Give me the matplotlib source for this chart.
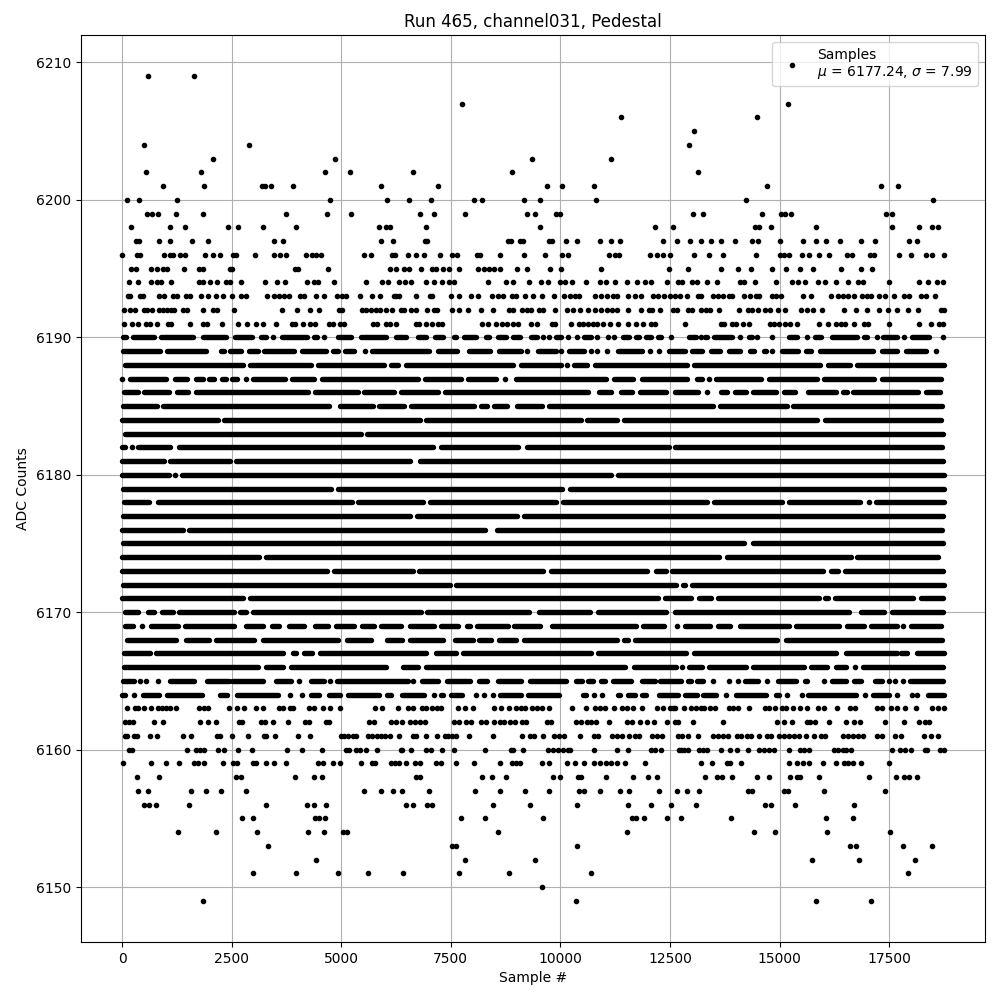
import matplotlib
matplotlib.use("Agg")
import matplotlib.pyplot as plt

# sample numbers, one list per ADC level
# plain int = single sample, (a, b) = run of samples that merge into a solid bar
row_6209 = [584, 1633]
row_6207 = [7766, 15199]
row_6206 = [11391, 14492]
row_6205 = [13056]
row_6204 = [493, 2887, 12942]
row_6203 = [2066, 4848, 9362, 11163]
row_6202 = [539, 1793, 4620, 5190, 6626, 8906, 13147]
row_6201 = [926, 1861, 3200, 3260, 3389, 3890, 5897, 7219, 9704, 10046, 10776, 14720, 17319, 17707]
row_6200 = [105, 379, 1245, 4734, 6033, 6535, 7059, 8040, 8215, 9180, 9545, 10821, 14241, 18505]
row_6199 = [561, 675, 812, 1223, 1838, 3731, 4665, 5213, 6786, 7105, 7835, 9248, 9431, 9894, 10000,
            13033, 13261, 14606, 15024, 15123, 15267, 17433, 17555]
row_6198 = [197, 1086, 1428, 2408, 2644, 3206, 3959, 5851, 6011, 6117, 6923, 9545, 12167, 12577,
            14447, 14538, 14811, 15837, 17570, 18186, 18482, 18619]
row_6197 = [311, 379, 835, 1086, 1587, 1960, 3457, 3662, 5897, 6178, 6900, 6968, 8815, 8883, 9089, 9157,
            9750, 9818, 10137, 10388, 10913, 11163, 11369, 12349, 12668, 12965, 13215, 13443, 13671,
            13991, 14378, 14515, 15017, 15541, 15837, 16065, 16385, 16863, 17183, 17958, 18140]
row_6196 = [0, 333, 402, 949, 1086, 1154, 1314, 1428, 1884, 2066, 2226, 2522, 2591, 3024, 3457, 3594, 3731,
            4187, 4323, 4415, 4529, 5509, 5669, 6163, 6231, 6512, 6717, 6877, 7257, 7538, 7652, 8108, 8177,
            8633, 9180, 9659, 10046, 10183, 11118, 11255, 11346, 12053, 12212, 12349, 12509, 13056, 13398,
            13717, 14469, 15017, 15108, 15222, 15518, 15678, 15906, 16134, 16544, 16643, 17069, 17160,
            17722, 18003, 18345, 18482, 18756]
row_6195 = [197, 311, 653, 789, 926, 1017, 1405, 1747, 1838, 2454, 2500, 3936, 4004, 4688, 6102, 6239, 6421,
            6535, 6831, 7082, 7173, 7333, 7470, 7698, 8131, 8268, 8382, 8496, 8633, 9020, 9248, 9773, 10023,
            10935, 12486, 12919, 13671, 14059, 14355, 14834, 15153, 15473, 15769, 16407, 16863, 17114]
row_6194 = [151, 356, 653, 789, 881, 1109, 1747, 1838, 1998, 2157, 2363, 2454, 2705, 3252, 3525, 3708, 4209,
            4369, 4460, 4825, 5555, 5919, 6056, 6307, 6444, 6603, 6923, 7105, 7310, 7470, 7584, 8359, 8769,
            8929, 9294, 9567, 9727, 10000, 10115, 10274, 10593, 10913, 11049, 11255, 11528, 11756, 11939,
            12075, 12440, 12691, 12782, 13010, 13124, 13352, 13580, 14105, 14196, 14447, 14925, 15290, 15427,
            15587, 15883, 16043, 16293, 16567, 16795, 16909, 17502, 18186, 18391, 18596, 18733]
row_6193 = [128, 174, 402, 470, 835, 949, 1154, 1245, 1451, 1542, 1793, 1952, 2135, 2294, 2500, 2705, 2819,
            3297, 3457, 3571, 3685, 3799, 4050, 4141, 4415, 4597, 4901, 5007, 5099, 5418, 5691, 5874, 6239,
            6193, 6307, 6695, 7014, 7082, 7493, 7698, 7971, 8131, 8450, 8587, 8701, 8906, 8997, 9203, 9385,
            9590, 9864, 10092, 10229, 10343, 10434, 10799, 10935, 11072, 11209, 11300, 11551, 11711, 11847,
            12121, 12235, 12372, 12509, 12623, 12737, 12896, 13147, 13215, 13489, 13603, 13717, 13854, 13922,
            14196, 14333, 14469, 14538, 14834, 14925, 15039, 15541, 15723, 16179, 16339, 16453, 16567, 16704,
            16886, 16996, 17091, 17274, 17410, 17616, 17844, 17958, 18231, 18345, 18551]
row_6192 = [37, 174, 288, 493, 561, 675, 835, 926, 1017, 1109, 1177, 1382, 1473, 1838, 2066, 2157, 2545, 3639,
            3981, 4278, 4483, 4939, 5007, 5463, 5555, 5669, 5783, 5874, 6011, 6147, 6353, 6421, 6581, 6717,
            6968, 7105, 7196, 7538, 7698, 7895, 8199, 8473, 8838, 8929, 9134, 9248, 9339, 9522, 9613, 9887,
            10160, 10297, 10457, 10639, 10799, 10935, 11072, 11186, 11300, 11551, 11847, 12030, 12098, 12281,
            12577, 12668, 12919, 13010, 13215, 13329, 13420, 13626, 14082, 14287, 14378, 14515, 14675, 14789,
            14971, 15131, 15495, 15632, 15769, 15974, 16476, 16749, 17000, 17274, 17479, 17684, 17935, 18163,
            18687, 18756]
row_6191 = [37, 219, 356, 539, 630, 789, 1040, 1109, 1542, 1838, 1929, 2271, 2636, 2841, 3047, 3206, 3503, 3867,
            3936, 4118, 4278, 4392, 4711, 4802, 4962, 5053, 5714, 5805, 6011, 6102, 6239, 6695, 6763, 6945,
            7082, 7219, 7310, 8222, 8359, 8541, 8678, 8792, 8929, 9043, 9339, 9476, 9818, 9887, 10251, 10434,
            10525, 10639, 10753, 10845, 10981, 11141, 11323, 11551, 11733, 11893, 12075, 12167, 12851, 13671,
            13740, 13922, 14013, 14173, 14310, 14789, 14880, 14994, 15131, 15245, 15404, 15906, 16111, 16293,
            16407, 16498, 16704, 16932, 17023, 17502, 18186, 18460, 18642, 18733]
row_6190 = [(22, 90), (250, 721), (896, 1610), (1846, 2370), (2568, 2963), (3176, 3282), 3434, (3647, 4209),
            (4376, 4445), 4597, (4924, 5220), (5456, 6018), (6239, 6474), (6748, 6930), (7135, 7325), (7584, 7614),
            (7797, 8070), (8306, 8374), (8587, 8754), (8929, 9081), (9332, 9461), 9613, 9750, (9902, 10008), 10183,
            10388, (10548, 10692), 10845, 11080, 11224, (11422, 11566), (11726, 11794), (11954, 12060),
            (12220, 12288), 12524, (12927, 13086), 13200, (13307, 13352), (13512, 13922), 14105, (14295, 14378),
            14492, 14819, (15222, 15404), 15625, (15807, 15951), (16187, 16772), (16932, 17000), 17228,
            (17365, 17684), 17844, (18011, 18406), 18725]
row_6189 = [(22, 873), (1033, 1914), (2249, 2332), (2469, 2712), (2887, 3092), (3229, 3928), (4095, 4650),
            (4810, 4916), (5076, 5296), 5532, (5707, 7006), (7204, 7652), (7910, 8389), (8595, 9096), 9248,
            (9484, 9894), 10008, (10191, 10540), 10692, 10845, 11065, (11308, 11870), 12037, 12243, (12471, 12835),
            (13003, 13238), (13436, 13633), (13839, 14089), (14317, 14416), (14637, 14697), 14834, (15047, 15427),
            (15602, 15723), (15913, 17137), (17327, 17684), (17882, 18330), 18573]
row_6188 = [(75, 2750), (2925, 4308), (4468, 5980), (6140, 6284), (6482, 8929), (9104, 10008), 10160,
            (10320, 10616), (10799, 12896), (13056, 15921), (16096, 16605), (16765, 18748)]
row_6187 = [7, (189, 1002), (1200, 1473), (1694, 1838), (1983, 2089), (2287, 2370), (2515, 2613), 2819,
            (2993, 3716), (3883, 4384), (4567, 6755), (6907, 7743), (7888, 8526), 8746, (8990, 11034),
            (11224, 11657), (11855, 12896), (13109, 13238), 13398, (13550, 14583), (14766, 15860),
            (16005, 17152), (17335, 18687)]
row_6186 = [(45, 356), (500, 1063), (1253, 1496), (1679, 4232), (4392, 5372), (5517, 6208), (6360, 7211),
            (7371, 10639), (10875, 11163), (11384, 11642), (11809, 12402), (12623, 13139), 13337, (13656, 13808),
            (13975, 14241), (14386, 14910), (15093, 15343), (15640, 16278), (16438, 16529), (16666, 18155),
            (18330, 18650)]
row_6185 = [(22, 789), (934, 4726), (4962, 5714), (5859, 6436), (6596, 8032), (8192, 8336), (8481, 8792),
            (9005, 9590), (9735, 13489), (13641, 15161), (15298, 18710)]
row_6184 = [(0, 2180), (2325, 6793), (6938, 10464), (10601, 11300), (11445, 15860), (16035, 18687)]
row_6183 = [(60, 5448), (5593, 18733)]
row_6182 = [(0, 67), 219, (364, 1101), (1299, 7097), (7280, 9043), (9233, 12478), (12623, 18710)]
row_6181 = [(0, 949), (1101, 2454), (2606, 6573), (6786, 18733)]
row_6180 = [(0, 1063), 1215, (1367, 11148), (11308, 18748)]
row_6179 = [(22, 4764), (4924, 10046), (10229, 18748)]
row_6178 = [(45, 607), (820, 5235), (5380, 6870), (7029, 9909), (10054, 13352), (13497, 15062), (15207, 16825),
            17038, (17198, 18748)]
row_6177 = [(22, 6573), (6725, 9005), (9180, 18733)]
row_6176 = [(0, 1382), (1527, 8275), (8549, 18710)]
row_6175 = [(22, 14188), (14386, 18733)]
row_6174 = [(0, 3130), (3290, 13618), (13801, 16620), (16765, 18619)]
row_6173 = [(0, 4665), (4833, 6626), (6771, 9613), (9788, 11984), (12182, 12402), (12546, 15997), (16172, 16339),
            (16491, 18733)]
row_6172 = [(22, 7485), (7622, 12630), (12790, 12835), (13003, 18748)]
row_6171 = [(0, 2750), (2910, 12228), (12387, 12987), (13155, 13443), (13588, 15898), (16043, 16111),
            (16263, 18049), (18224, 18733)]
row_6170 = [(75, 371), (592, 736), (911, 1154), (1299, 2560), (2697, 2826), (2986, 6816), (6953, 9286),
            (9507, 10677), (10852, 12402), (12623, 16582), (16856, 17380), (17555, 18733)]
row_6169 = [(75, 242), 447, (653, 1268), (1443, 2545), (2834, 3206), (3427, 3586), (3807, 4156), (4407, 4688),
            (4871, 5296), (5479, 5737), (5912, 6360), (6573, 7120), (7280, 7675), (7865, 7941), (8093, 8807),
            (8952, 9537), (9811, 11718), (11893, 12364), 12668, (12843, 13413), (13588, 13869), (14097, 15214),
            (15374, 16354), (16529, 16924), (17084, 17684), 17821, (17996, 18687)]
row_6168 = [(121, 1230), (1451, 1990), (2150, 3016), (3214, 4916), (5129, 5676), (6041, 6383), (6558, 7333),
            (7599, 8017), (8154, 8427), (8610, 8982), (9165, 11300), (11460, 11543), (11711, 14948), (15146, 18710)]
row_6167 = [(45, 637), (782, 3662), (3898, 3966), (4141, 4323), (4521, 6945), (7166, 7629), (7774, 10707),
            (10852, 12858), (13041, 16293), (16514, 17684), (17768, 17912), (18125, 18748)]
row_6166 = [(45, 3092), (3290, 3662), (3860, 6018), (6193, 6208), (6406, 6740), (6923, 11467), (11688, 12630),
            12782, (12927, 13238), (13398, 14226), (14386, 15556), (15716, 16088), (16285, 16506), 16717,
            (16894, 18733)]
row_6165 = [(22, 265), 402, 554, 820, (1101, 1633), (1937, 2431), (2515, 3220), (3518, 3852), 4035, (4301, 4612),
            4749, (4901, 6512), 6634, (6846, 7219), (7409, 7941), (8139, 8336), (8572, 9111), (9309, 10122),
            (10358, 10487), (10624, 10753), (10920, 11011), (11194, 11604), (11855, 12159), (12281, 12744),
            (12904, 12972), (13109, 13253), 13474, 13838, 14059, (14203, 14507), 14705, (14956, 15381),
            (15571, 15632), 16020, (16187, 16521), (16688, 16863), (17167, 17342), 17487, 17638, 17806,
            (17973, 18733)]
row_6164 = [(0, 67), 273, (478, 835), (1025, 1815), (2241, 2385), (2613, 3548), 3822, 4111, (4308, 4498),
            (4719, 4977), (5152, 5866), (6041, 6132), (6383, 6892), 7113, (7280, 7333), (7508, 7766), 8070, 8268,
            8473, (8625, 9096), (9256, 9970), (10510, 10578), 10776, 10951, (11308, 11353), (11536, 11695),
            (11862, 11961), (12258, 12691), (12851, 13109), (13246, 13557), 13778, (14006, 14697), (14918, 14994),
            15176, 15518, (15655, 16734), 16939, (17122, 17494), 17684, 18011, 18140, (18376, 18748)]
row_6163 = [105, 288, 356, 493, 653, 812, 903, 995, 1086, 1238, 1747, 1861, 1952, 2431, 2613, 2773, 3047, 3206,
            3571, 3662, 3822, 3890, 4255, 4369, 4574, 4734, 4962, 5760, 5919, 6284, 6512, 6626, 6854, 6945, 7082,
            7196, 7287, 7675, 7835, 8017, 8496, 8655, 8838, 8997, 9111, 9203, 9362, 9476, 9590, 9750, 10274,
            10593, 10799, 10913, 11026, 11232, 11414, 11528, 11665, 11870, 12212, 12349, 12509, 12623, 12577,
            12828, 12987, 13101, 13215, 13284, 13420, 13535, 13854, 13945, 14059, 14310, 14675, 14766, 14903,
            15062, 15153, 15313, 15473, 15632, 15883, 16020, 16316, 16613, 16726, 17228, 17342, 17547, 17684,
            17866, 18117, 18482, 18619, 18756]
row_6162 = [60, 151, 242, 721, 926, 1770, 1952, 2135, 2659, 2727, 3161, 3252, 3434, 3776, 4164, 4255, 4643, 4711,
            5623, 5737, 6125, 6239, 6375, 6558, 6672, 6786, 6900, 7584, 7698, 7857, 7971, 8199, 8313, 8496, 8633,
            8724, 8860, 8975, 9134, 9225, 9704, 9795, 10365, 10479, 10616, 10707, 10821, 11118, 11528, 11642,
            11825, 11984, 12144, 12440, 12623, 12691, 13033, 13717, 14948, 15108, 15290, 15632, 15700, 15814,
            16134, 16521, 16704, 16841, 17403, 17844, 18186, 18322, 18413]
row_6161 = [60, 105, 265, 333, 630, 789, 1382, 1565, 2157, 2226, 2500, 2879, 3229, 3275, 3480, 4004, 4278, 4985,
            5053, 5144, 5258, 5327, 5600, 5691, 5805, 5897, 5988, 6117, 6307, 6626, 6695, 6923, 7196, 7356, 7447,
            7538, 7629, 7926, 8473, 9134, 9317, 9408, 9613, 9864, 9978, 10092, 10457, 10776, 10867, 11186, 11300,
            11414, 11574, 11711, 11802, 12098, 12212, 12326, 12691, 12782, 12919, 13147, 13489, 13603, 13717,
            13831, 14036, 14127, 14264, 14355, 14538, 14720, 14811, 14994, 15108, 15222, 15336, 15450, 15609,
            15792, 15951, 16043, 16453, 16567, 16681, 16795, 16909, 17228, 17342, 17638, 17775, 18300, 18460, 18619]
row_6160 = [151, 219, 1473, 1679, 1770, 1861, 2180, 2317, 2636, 2955, 3753, 4095, 4551, 5099, 5167, 5327, 5418,
            5555, 5805, 6353, 6375, 6603, 6945, 7059, 7310, 7584, 8291, 8883, 8929, 9157, 9727, 9841, 9955, 10069,
            10183, 10229, 10776, 11300, 11551, 12075, 12167, 12303, 12714, 12759, 12828, 12919, 13170, 13261,
            13352, 13671, 13877, 14036, 14287, 14538, 14652, 14766, 14880, 15222, 15473, 15564, 15678, 16248,
            16339, 16453, 16521, 16635, 17570, 17752, 17866, 18003, 18322, 18368, 18665, 18756]
row_6159 = [14, 653, 995, 1291, 1633, 1724, 1861, 2294, 2522, 2613, 2978, 3047, 3275, 3457, 3731, 4460, 4574, 4802,
            4962, 5441, 5691, 5760, 6125, 6216, 6307, 6467, 6672, 6786, 7173, 7287, 7607, 8040, 8633, 8906, 8997,
            9089, 9590, 9750, 10160, 10343, 10548, 10776, 10913, 11049, 11163, 11300, 11483, 11939, 13215, 13466,
            13808, 13877, 14127, 15222, 15404, 15541, 15678, 15997, 16293, 16476, 16567, 16681, 16863, 17502]
row_6158 = [333, 835, 2591, 2705, 3936, 4369, 4551, 6710, 6790, 8222, 8450, 8769, 9841, 10000, 10411, 10479, 11049,
            11665, 12007, 12212, 13307, 13580, 13694, 13922, 14492, 14766, 15245, 15400, 15460, 15906, 17046, 17661,
            17844, 17958, 18140]
row_6157 = [356, 584, 1565, 1907, 2249, 2819, 5509, 5897, 6170, 6375, 6991, 8062, 8633, 9203, 9750, 10434, 10548,
            10913, 11369, 11574, 12258, 12668, 12896, 13170, 14287, 14378, 15108, 15199, 16020, 17410]
row_6156 = [493, 607, 767, 1519, 3275, 4209, 4369, 4643, 6467, 6626, 6968, 7082, 8473, 9317, 10388, 11551, 12075,
            12531, 13101, 14675, 14811, 15359, 16704]
row_6155 = [2727, 2978, 4392, 4483, 4620, 7743, 8291, 9613, 11642, 11733, 11916, 12440, 12759, 13899, 16065, 16681]
row_6154 = [1268, 2135, 3069, 4232, 4597, 5030, 5121, 8587, 11528, 14424, 14903, 16088, 17525]
row_6153 = [3320, 7538, 7629, 10388, 16613, 16749, 17821, 18482]
row_6152 = [4415, 7835, 9431, 15746, 16818, 18095]
row_6151 = [2978, 3959, 4916, 5600, 6398, 7698, 8838, 10707, 17935]
row_6150 = [9590]
row_6149 = [1838, 10365, 15837, 17091]

levels = [6209, 6207, 6206, 6205, 6204, 6203, 6202, 6201, 6200, 6199, 6198, 6197, 6196, 6195, 6194, 6193, 6192,
          6191, 6190, 6189, 6188, 6187, 6186, 6185, 6184, 6183, 6182, 6181, 6180, 6179, 6178, 6177, 6176, 6175,
          6174, 6173, 6172, 6171, 6170, 6169, 6168, 6167, 6166, 6165, 6164, 6163, 6162, 6161, 6160, 6159, 6158,
          6157, 6156, 6155, 6154, 6153, 6152, 6151, 6150, 6149]
rows = [row_6209, row_6207, row_6206, row_6205, row_6204, row_6203, row_6202, row_6201, row_6200, row_6199,
        row_6198, row_6197, row_6196, row_6195, row_6194, row_6193, row_6192, row_6191, row_6190, row_6189,
        row_6188, row_6187, row_6186, row_6185, row_6184, row_6183, row_6182, row_6181, row_6180, row_6179,
        row_6178, row_6177, row_6176, row_6175, row_6174, row_6173, row_6172, row_6171, row_6170, row_6169,
        row_6168, row_6167, row_6166, row_6165, row_6164, row_6163, row_6162, row_6161, row_6160, row_6159,
        row_6158, row_6157, row_6156, row_6155, row_6154, row_6153, row_6152, row_6151, row_6150, row_6149]

mu = 6177.24
sigma = 7.99

# split each row into single samples and merged runs
dot_x, dot_y = [], []
run_y, run_start, run_stop = [], [], []
for level, row in zip(levels, rows):
    for item in row:
        if isinstance(item, tuple):
            run_y.append(level)
            run_start.append(item[0])
            run_stop.append(item[1])
        else:
            dot_x.append(item)
            dot_y.append(level)

fig, ax = plt.subplots(figsize=(10, 10))

ax.plot(dot_x, dot_y, "k.", label=f"Samples\n$\\mu$ = {mu:.2f}, $\\sigma$ = {sigma:.2f}")
ax.hlines(run_y, run_start, run_stop, colors="k", linewidth=3.9, capstyle="round", zorder=2)

ax.set_xlim(-937, 19687)
ax.set_ylim(6146, 6212)
ax.set_title("Run 465, channel031, Pedestal")
ax.set_xlabel("Sample #")
ax.set_ylabel("ADC Counts")
ax.grid(True)
ax.legend(loc="upper right")

fig.subplots_adjust(left=0.081, right=0.985, top=0.965, bottom=0.058)
plt.savefig("out.png", dpi=100)
